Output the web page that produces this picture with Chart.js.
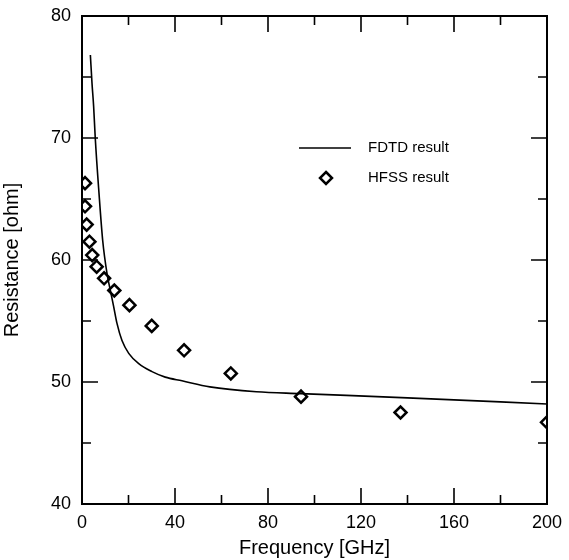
<!DOCTYPE html>
<html>
<head>
<meta charset="utf-8">
<script src="https://cdn.jsdelivr.net/npm/chart.js@4"></script>
<style>
  html, body { margin: 0; padding: 0; background: #fff; }
  #wrap { width: 569px; height: 560px; }
</style>
</head>
<body>
<div id="wrap"><canvas id="chart" width="569" height="560"></canvas></div>
<script>
// FDTD curve (frequency GHz, resistance ohm)
const fdtdFreq = [3.6, 4.3, 5.0, 5.7, 7.3, 8.9, 10.75, 12.2, 13.6, 15.05, 17.2, 20.1, 24.4, 30.1, 35.8, 43, 55, 75, 94, 140, 200];
const fdtdRes  = [76.8, 74.5, 72.6, 70.0, 65.5, 61.6, 58.9, 57.5, 56.2, 54.8, 53.4, 52.35, 51.5, 50.85, 50.4, 50.1, 49.6, 49.2, 49.05, 48.7, 48.2];

// HFSS points
const hfssFreq = [1.3, 1.3, 2.0, 3.2, 4.4, 6.3, 9.5, 13.9, 20.4, 30, 43.9, 64, 94.2, 137, 200];
const hfssRes  = [66.3, 64.4, 62.9, 61.5, 60.4, 59.45, 58.5, 57.5, 56.3, 54.6, 52.6, 50.7, 48.8, 47.5, 46.7];

const xTicks = [0, 40, 80, 120, 160, 200];
const yTicks = [40, 50, 60, 70, 80];

const FONT = '"Liberation Sans", Arial, Helvetica, sans-serif';

// frame, inward ticks and the legend
const framePlugin = {
  id: 'frame',
  afterDatasetsDraw(chart) {
    const { ctx, chartArea: a, scales: { x, y } } = chart;
    ctx.save();
    ctx.strokeStyle = '#000';
    ctx.lineWidth = 2;
    ctx.strokeRect(a.left, a.top, a.right - a.left, a.bottom - a.top);

    ctx.lineWidth = 1.6;
    ctx.beginPath();
    for (let v = 0; v <= 200; v += 20) {
      const px = x.getPixelForValue(v);
      const len = v % 40 === 0 ? 16 : 9;
      ctx.moveTo(px, a.bottom); ctx.lineTo(px, a.bottom - len);
      ctx.moveTo(px, a.top); ctx.lineTo(px, a.top + len);
    }
    for (let v = 40; v <= 80; v += 5) {
      const py = y.getPixelForValue(v);
      const len = v % 10 === 0 ? 16 : 9;
      ctx.moveTo(a.left, py); ctx.lineTo(a.left + len, py);
      ctx.moveTo(a.right, py); ctx.lineTo(a.right - len, py);
    }
    ctx.stroke();

    // legend
    ctx.lineWidth = 1.5;
    ctx.beginPath();
    ctx.moveTo(299, 148); ctx.lineTo(351, 148);
    ctx.stroke();
    ctx.lineWidth = 2.5;
    ctx.fillStyle = '#fff';
    ctx.beginPath();
    ctx.moveTo(326, 172); ctx.lineTo(332, 178); ctx.lineTo(326, 184); ctx.lineTo(320, 178);
    ctx.closePath();
    ctx.fill(); ctx.stroke();
    ctx.fillStyle = '#000';
    ctx.font = '15px ' + FONT;
    ctx.textBaseline = 'middle';
    ctx.fillText('FDTD result', 368, 148);
    ctx.fillText('HFSS result', 368, 178);
    ctx.restore();
  }
};

new Chart(document.getElementById('chart'), {
  type: 'scatter',
  data: {
    datasets: [
      {
        label: 'FDTD result',
        data: fdtdFreq.map((f, i) => ({ x: f, y: fdtdRes[i] })),
        showLine: true,
        borderColor: '#000',
        borderWidth: 1.6,
        pointRadius: 0,
        cubicInterpolationMode: 'monotone'
      },
      {
        label: 'HFSS result',
        data: hfssFreq.map((f, i) => ({ x: f, y: hfssRes[i] })),
        showLine: false,
        pointStyle: 'rectRot',
        pointRadius: 6,
        borderColor: '#000',
        borderWidth: 2.5,
        backgroundColor: '#fff'
      }
    ]
  },
  options: {
    responsive: false,
    animation: false,
    layout: { padding: { top: 16, right: 22, left: 0, bottom: 0 } },
    plugins: { legend: { display: false }, tooltip: { enabled: false } },
    scales: {
      x: {
        type: 'linear', min: 0, max: 200,
        afterBuildTicks: s => { s.ticks = xTicks.map(v => ({ value: v })); },
        afterFit: s => { s.height = 56; s.paddingLeft = 0; s.paddingRight = 0; },
        grid: { display: false, drawTicks: false },
        border: { display: false },
        ticks: { color: '#000', font: { family: FONT, size: 18 }, padding: 8, maxRotation: 0 },
        title: { display: true, text: 'Frequency [GHz]', color: '#000', font: { family: FONT, size: 20 }, padding: { top: 0, bottom: 0 } }
      },
      y: {
        type: 'linear', min: 40, max: 80,
        afterBuildTicks: s => { s.ticks = yTicks.map(v => ({ value: v })); },
        afterFit: s => { s.width = 82; s.paddingTop = 0; s.paddingBottom = 0; },
        grid: { display: false, drawTicks: false },
        border: { display: false },
        ticks: { color: '#000', font: { family: FONT, size: 18 }, padding: 11 },
        title: { display: true, text: 'Resistance [ohm]', color: '#000', font: { family: FONT, size: 20 }, padding: { top: 0, bottom: 2 } }
      }
    }
  },
  plugins: [framePlugin]
});
</script>
</body>
</html>
